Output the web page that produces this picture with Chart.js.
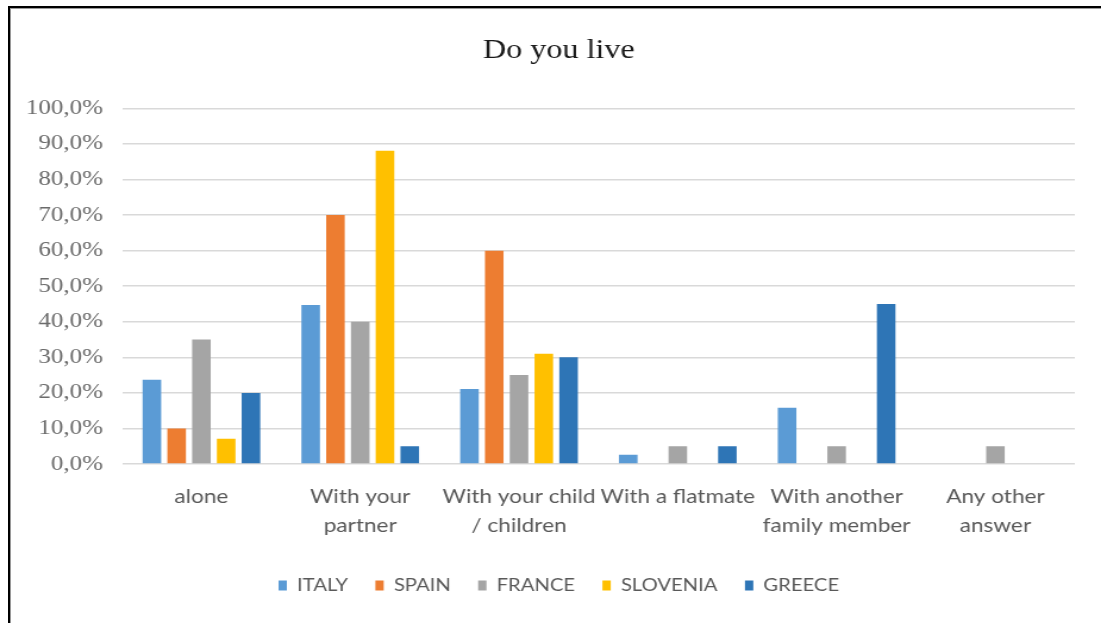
<!DOCTYPE html>
<html>
<head>
<meta charset="utf-8">
<title>Do you live</title>
<script src="https://cdn.jsdelivr.net/npm/chart.js@4.4.1/dist/chart.umd.min.js"></script>
<style>
    html, body { margin: 0; padding: 0; background: #fff; overflow: hidden; }
    /* drawing is done narrower and stretched sideways */
    #wrap {
        position: absolute; left: 0; top: 0;
        width: 925px; height: 623px;
        transform: scaleX(1.19027); transform-origin: 0 0;
    }
    #frame {
        position: absolute; left: 8px; top: 6px;
        width: 1101px; height: 623px;
        border-top: 2px solid #000; border-left: 2px solid #000;
        box-shadow: inset 1px 1px 0 #9a9a9a;
        pointer-events: none;
    }
</style>
</head>
<body>
<div id="wrap"><canvas id="liveChart" width="925" height="623"></canvas></div>
<div id="frame"></div>
<script>
// Categories and answers per country (%)
const categories = [
    ['alone'],
    ['With your', 'partner'],
    ['With your child', '/ children'],
    ['With a flatmate'],
    ['With another', 'family member'],
    ['Any other', 'answer']
];
const italy    = [23.7, 44.7, 21.1, 2.6, 15.8, 0];
const spain    = [10.0, 70.0, 60.0, 0, 0, 0];
const france   = [35.0, 40.0, 25.0, 5.0, 5.0, 5.0];
const slovenia = [7.1, 88.1, 31.0, 0, 0, 0];
const greece   = [20.0, 5.0, 30.0, 5.0, 45.0, 0];
const yTicks   = [0, 10, 20, 30, 40, 50, 60, 70, 80, 90, 100];

const series = [
    { label: 'ITALY', data: italy, color: '#5B9BD5' },
    { label: 'SPAIN', data: spain, color: '#ED7D31' },
    { label: 'FRANCE', data: france, color: '#A5A5A5' },
    { label: 'SLOVENIA', data: slovenia, color: '#FFC000' },
    { label: 'GREECE', data: greece, color: '#2E75B6' }
];

const ctx = document.getElementById('liveChart');
new Chart(ctx, {
    type: 'bar',
    data: {
        labels: categories,
        datasets: series.map(s => ({
            label: s.label,
            data: s.data,
            backgroundColor: s.color,
            borderWidth: 0,
            categoryPercentage: 0.78,
            barPercentage: 0.75
        }))
    },
    options: {
        responsive: false,
        animation: false,
        events: [],
        layout: { padding: { top: 35, left: 21, right: 7, bottom: 19 } },
        plugins: {
            title: {
                display: true,
                text: 'Do you live',
                color: '#1a1a1a',
                font: { family: '"Liberation Serif", "DejaVu Serif", serif', size: 27, weight: 'normal' },
                padding: { top: 0, bottom: 41 }
            },
            legend: {
                position: 'bottom',
                labels: {
                    color: '#595959',
                    font: { family: 'Lato, sans-serif', size: 17 },
                    boxWidth: 7,
                    boxHeight: 10,
                    padding: 23
                }
            },
            tooltip: { enabled: false }
        },
        scales: {
            x: {
                grid: { display: false },
                border: { display: false },
                ticks: {
                    color: '#595959',
                    font: { family: 'Lato, sans-serif', size: 19, lineHeight: 1.53 },
                    padding: 10,
                    maxRotation: 0,
                    autoSkip: false
                },
                afterFit: scale => { scale.height = 90; }
            },
            y: {
                min: 0,
                max: 100,
                afterBuildTicks: scale => { scale.ticks = yTicks.map(v => ({ value: v })); },
                grid: { color: '#d9d9d9', lineWidth: 1.5, drawTicks: false },
                border: { display: false },
                ticks: {
                    color: '#6b6b6b',
                    font: { family: '"Liberation Serif", "DejaVu Serif", serif', size: 21 },
                    padding: 16,
                    callback: v => v.toFixed(1).replace('.', ',') + '%'
                },
                afterFit: scale => { scale.width = 81.5; }
            },
            // empty margin on the right so the title sits where it should
            yRight: {
                position: 'right',
                grid: { display: false },
                border: { display: false },
                ticks: { display: false },
                afterFit: scale => { scale.width = 15; }
            }
        }
    }
});
</script>
</body>
</html>
